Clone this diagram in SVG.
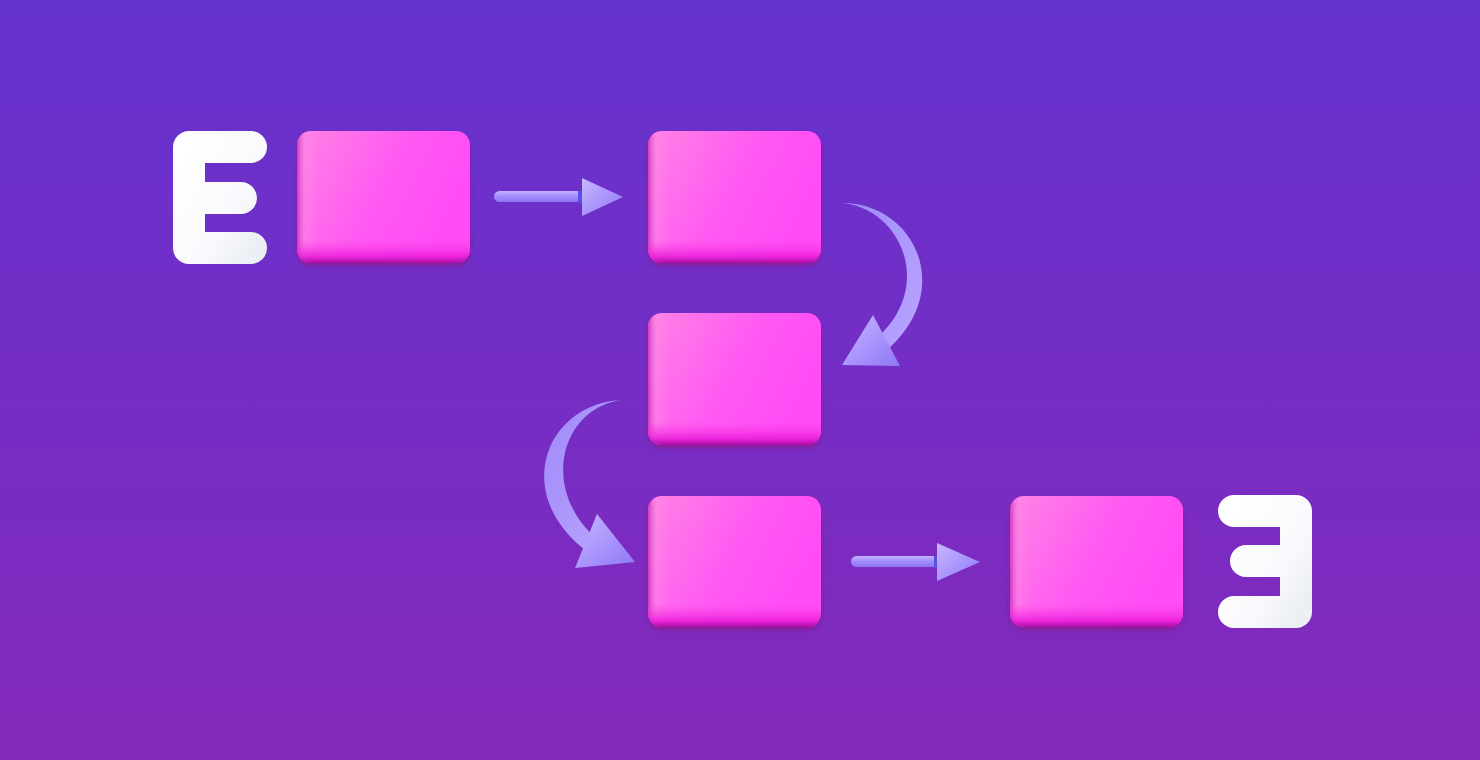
<svg xmlns="http://www.w3.org/2000/svg" width="1480" height="760" viewBox="0 0 1480 760">
<defs>
<linearGradient id="bg" x1="0" y1="0" x2="0" y2="1">
<stop offset="0" stop-color="#6532CE"/>
<stop offset="1" stop-color="#8429BB"/>
</linearGradient>
<linearGradient id="pink" x1="0" y1="0" x2="1" y2="0.4">
<stop offset="0" stop-color="#ff84e4"/>
<stop offset="0.6" stop-color="#ff58f3"/>
<stop offset="1" stop-color="#ff4cf6"/>
</linearGradient>
<linearGradient id="pinkBottom" x1="0" y1="0" x2="0" y2="1">
<stop offset="0" stop-color="#ff3fe8" stop-opacity="0"/>
<stop offset="0.82" stop-color="#ff3fe8" stop-opacity="0"/>
<stop offset="0.95" stop-color="#e81ad8" stop-opacity="0.8"/>
<stop offset="1" stop-color="#a80ca0" stop-opacity="1"/>
</linearGradient>
<linearGradient id="pinkLeft" x1="0" y1="0" x2="1" y2="0">
<stop offset="0" stop-color="#c02ab8" stop-opacity="0.8"/>
<stop offset="0.05" stop-color="#ff8ee8" stop-opacity="0.3"/>
<stop offset="0.12" stop-color="#ff8ee8" stop-opacity="0"/>
<stop offset="1" stop-color="#ff8ee8" stop-opacity="0"/>
</linearGradient>
<linearGradient id="white" x1="0" y1="0" x2="1" y2="1">
<stop offset="0" stop-color="#ffffff"/>
<stop offset="0.7" stop-color="#f8f9fc"/>
<stop offset="1" stop-color="#eceff4"/>
</linearGradient>
<linearGradient id="shaft" x1="0" y1="0" x2="0" y2="1">
<stop offset="0" stop-color="#c3b4ff"/>
<stop offset="0.5" stop-color="#a28cfb"/>
<stop offset="1" stop-color="#8b74f0"/>
</linearGradient>
<linearGradient id="head" x1="0" y1="0" x2="1" y2="1">
<stop offset="0" stop-color="#c8b8ff"/>
<stop offset="0.6" stop-color="#a690fc"/>
<stop offset="1" stop-color="#8e78f2"/>
</linearGradient>
<linearGradient id="curve" x1="0" y1="0" x2="1" y2="1">
<stop offset="0" stop-color="#9f8af8"/>
<stop offset="1" stop-color="#b8a6ff"/>
</linearGradient>
<filter id="soft" x="-10%" y="-10%" width="120%" height="130%">
<feGaussianBlur stdDeviation="2"/>
</filter>
<style>
.shadow{fill:#8a1a9a;filter:url(#soft)}
.box{fill:url(#pink)}
.boxb{fill:url(#pinkBottom)}
.boxl{fill:url(#pinkLeft)}
.letter{fill:none;stroke:url(#white);stroke-width:32;stroke-linecap:round;stroke-linejoin:round}
.shaft{fill:url(#shaft)}
.head{fill:url(#head)}
.curve{fill:url(#curve)}
</style>
</defs>
<rect width="1480" height="760" fill="url(#bg)"/>

<g id="letter-start">
<path class="letter" d="M251,147 H189 V248 H251 M189,198 H241"/>
</g>

<g id="box1">
<rect class="shadow" x="297" y="134" width="173" height="132" rx="14"/>
<rect class="box" x="297" y="131" width="173" height="132" rx="14"/>
<rect class="boxl" x="297" y="131" width="173" height="132" rx="14"/>
<rect class="boxb" x="297" y="131" width="173" height="132" rx="14"/>
</g>
<g id="box2">
<rect class="shadow" x="648" y="134" width="173" height="132" rx="14"/>
<rect class="box" x="648" y="131" width="173" height="132" rx="14"/>
<rect class="boxl" x="648" y="131" width="173" height="132" rx="14"/>
<rect class="boxb" x="648" y="131" width="173" height="132" rx="14"/>
</g>
<g id="box3">
<rect class="shadow" x="648" y="316" width="173" height="132" rx="14"/>
<rect class="box" x="648" y="313" width="173" height="132" rx="14"/>
<rect class="boxl" x="648" y="313" width="173" height="132" rx="14"/>
<rect class="boxb" x="648" y="313" width="173" height="132" rx="14"/>
</g>
<g id="box4">
<rect class="shadow" x="648" y="499" width="173" height="131" rx="14"/>
<rect class="box" x="648" y="496" width="173" height="131" rx="14"/>
<rect class="boxl" x="648" y="496" width="173" height="131" rx="14"/>
<rect class="boxb" x="648" y="496" width="173" height="131" rx="14"/>
</g>
<g id="box5">
<rect class="shadow" x="1010" y="499" width="173" height="131" rx="14"/>
<rect class="box" x="1010" y="496" width="173" height="131" rx="14"/>
<rect class="boxl" x="1010" y="496" width="173" height="131" rx="14"/>
<rect class="boxb" x="1010" y="496" width="173" height="131" rx="14"/>
</g>

<g id="letter-end">
<path class="letter" d="M1234,511 H1296 V612 H1234 M1296,561 H1246"/>
</g>

<g id="connectors">
<rect class="shaft" x="494" y="191" width="94" height="11" rx="5.5"/>
<rect x="578" y="191" width="8" height="12" fill="#5b4ee6"/>
<path class="head" d="M582,178 L623,197 L582,216 Z"/>

<path class="curve" d="M842,203 C915,203 955,290 888,349 L878,337 C935,285 900,208 842,203 Z"/>
<path class="head" d="M873,315 L900,366 L842,365 Z"/>

<path class="curve" d="M620,400 C545,405 510,495 589,553 L597,539 C540,490 560,410 620,400 Z"/>
<path class="head" d="M597,514 L635,562 L575,568 Z"/>

<rect class="shaft" x="851" y="556" width="94" height="11" rx="5.5"/>
<rect x="934" y="556" width="8" height="12" fill="#5b4ee6"/>
<path class="head" d="M937,543 L980,562 L937,581 Z"/>
</g>
</svg>
